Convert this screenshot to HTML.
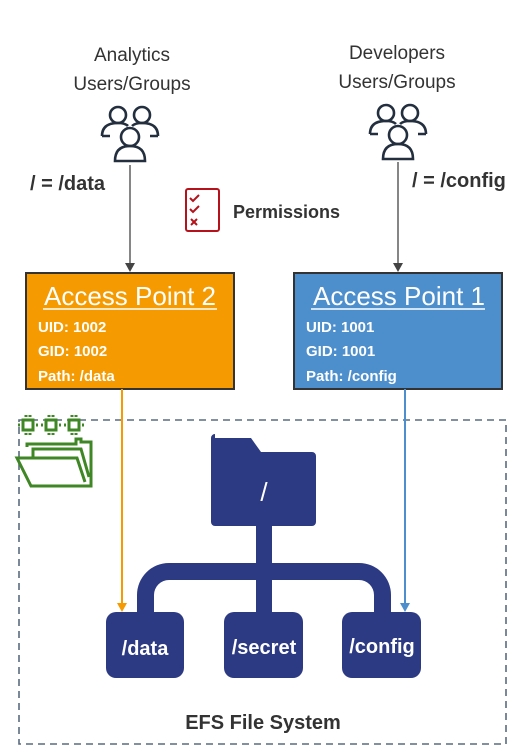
<!DOCTYPE html>
<html><head><style>
html,body{margin:0;padding:0;background:#fff;}
svg{display:block;font-family:"Liberation Sans",Calibri,sans-serif;}
</style></head><body>
<svg width="526" height="755" viewBox="0 0 526 755" xmlns="http://www.w3.org/2000/svg">
<!-- users text -->
<text x="132" y="61" font-size="19" fill="#333" text-anchor="middle">Analytics</text>
<text x="132" y="90" font-size="19" fill="#333" text-anchor="middle">Users/Groups</text>
<text x="397" y="59" font-size="19" fill="#333" text-anchor="middle">Developers</text>
<text x="397" y="88" font-size="19" fill="#333" text-anchor="middle">Users/Groups</text>
<!-- user icons -->
<g fill="none" stroke="#232f3e" stroke-width="2.6">
 <g transform="translate(130,0)">
  <circle cx="-12" cy="115" r="8"/><path d="M-28,136 q0,-13 16,-13 q7,0 10,3"/>
  <circle cx="12" cy="115" r="8"/><path d="M28,136 q0,-13 -16,-13 q-7,0 -10,3"/>
  <circle cx="0" cy="137" r="9"/><path d="M-15,161 q0,-15 15,-15 q15,0 15,15 Z"/>
  <path d="M-28,136 h8 M28,136 h-8"/>
 </g>
 <g transform="translate(398,-2)">
  <circle cx="-12" cy="115" r="8"/><path d="M-28,136 q0,-13 16,-13 q7,0 10,3"/>
  <circle cx="12" cy="115" r="8"/><path d="M28,136 q0,-13 -16,-13 q-7,0 -10,3"/>
  <circle cx="0" cy="137" r="9"/><path d="M-15,161 q0,-15 15,-15 q15,0 15,15 Z"/>
  <path d="M-28,136 h8 M28,136 h-8"/>
 </g>
</g>
<text x="30" y="190" font-size="20" font-weight="bold" fill="#333">/ = /data</text>
<text x="412" y="187" font-size="20" font-weight="bold" fill="#333">/ = /config</text>
<!-- permissions icon -->
<rect x="186" y="189" width="33" height="42" rx="2" fill="none" stroke="#b5121b" stroke-width="2"/>
<g stroke="#b5121b" stroke-width="2" fill="none">
<path d="M190,198 l3,3 l6,-6"/><path d="M190,209 l3,3 l6,-6"/><path d="M191,219 l6,6 M197,219 l-6,6"/>
</g>
<text x="233" y="218" font-size="18" font-weight="bold" fill="#333">Permissions</text>
<!-- arrows -->
<line x1="130" y1="165" x2="130" y2="265" stroke="#444" stroke-width="1.3"/>
<path d="M125,263 h10 l-5,9 z" fill="#444"/>
<line x1="398" y1="162" x2="398" y2="265" stroke="#444" stroke-width="1.3"/>
<path d="M393,263 h10 l-5,9 z" fill="#444"/>
<!-- access points -->
<rect x="26" y="273" width="208" height="116" fill="#f59a00" stroke="#333" stroke-width="2"/>
<text x="130" y="305" font-size="26" fill="#fff" text-anchor="middle">Access Point 2</text>
<line x1="43" y1="309" x2="217" y2="309" stroke="#fff" stroke-width="1.5"/>
<text x="38" y="332" font-size="15" font-weight="bold" fill="#fff">UID: 1002</text>
<text x="38" y="356" font-size="15" font-weight="bold" fill="#fff">GID: 1002</text>
<text x="38" y="381" font-size="15" font-weight="bold" fill="#fff">Path: /data</text>
<rect x="294" y="273" width="208" height="116" fill="#4d8fcd" stroke="#333" stroke-width="2"/>
<text x="399" y="305" font-size="26" fill="#fff" text-anchor="middle">Access Point 1</text>
<line x1="311" y1="309" x2="485" y2="309" stroke="#fff" stroke-width="1.5"/>
<text x="306" y="332" font-size="15" font-weight="bold" fill="#fff">UID: 1001</text>
<text x="306" y="356" font-size="15" font-weight="bold" fill="#fff">GID: 1001</text>
<text x="306" y="381" font-size="15" font-weight="bold" fill="#fff">Path: /config</text>
<!-- dashed box -->
<rect x="19" y="420" width="487" height="324" fill="none" stroke="#5a6b80" stroke-width="1.6" stroke-dasharray="7,5"/>
<!-- green icon -->
<g fill="none" stroke="#3f8624" stroke-width="3">
<rect x="23" y="420" width="10" height="10"/><rect x="46" y="420" width="10" height="10"/><rect x="69" y="420" width="10" height="10"/>
<path d="M26,417v-2M30,417v-2M49,417v-2M53,417v-2M72,417v-2M76,417v-2M26,433v2M30,433v2M49,433v2M53,433v2M72,433v2M76,433v2M20,425h-2M36,425h2M43,425h-2M59,425h2M66,425h-2M82,425h2"/>
<path d="M27,447 v-3 h49 v-5 h5 v3 h10 v44 h-60 l-14,-28 h60 l8,24"/>
<path d="M33,458 v-9 h48 l8,28"/>
</g>
<!-- folder tree -->
<g fill="#2c3a84">
<path d="M215,438 h36 l10,14 h51 a4,4 0 0 1 4,4 v66 a4,4 0 0 1 -4,4 h-97 a4,4 0 0 1 -4,-4 v-84 a4,4 0 0 1 4,-4 z"/>
<rect x="256" y="525" width="16" height="90"/>
<path d="M137,615 v-20 a32,32 0 0 1 32,-32 h190 a32,32 0 0 1 32,32 v20 h-17 v-20 a15,15 0 0 0 -15,-15 h-190 a15,15 0 0 0 -15,15 v20 z"/>
<rect x="106" y="612" width="78" height="66" rx="10"/>
<rect x="224" y="612" width="79" height="66" rx="10"/>
<rect x="342" y="612" width="79" height="66" rx="10"/>
</g>
<text x="264" y="501" font-size="26" fill="#fff" text-anchor="middle">/</text>
<text x="145" y="655" font-size="20" font-weight="bold" fill="#fff" text-anchor="middle">/data</text>
<text x="264" y="654" font-size="20" font-weight="bold" fill="#fff" text-anchor="middle">/secret</text>
<text x="382" y="653" font-size="20" font-weight="bold" fill="#fff" text-anchor="middle">/config</text>
<!-- colored lines -->
<line x1="122" y1="389" x2="122" y2="605" stroke="#f59a00" stroke-width="2"/>
<path d="M117,603 h10 l-5,9 z" fill="#f59a00"/>
<line x1="405" y1="389" x2="405" y2="605" stroke="#4d8fcd" stroke-width="2"/>
<path d="M400,603 h10 l-5,9 z" fill="#4d8fcd"/>
<text x="263" y="729" font-size="20" font-weight="bold" fill="#333" text-anchor="middle">EFS File System</text>
</svg>
</body></html>
